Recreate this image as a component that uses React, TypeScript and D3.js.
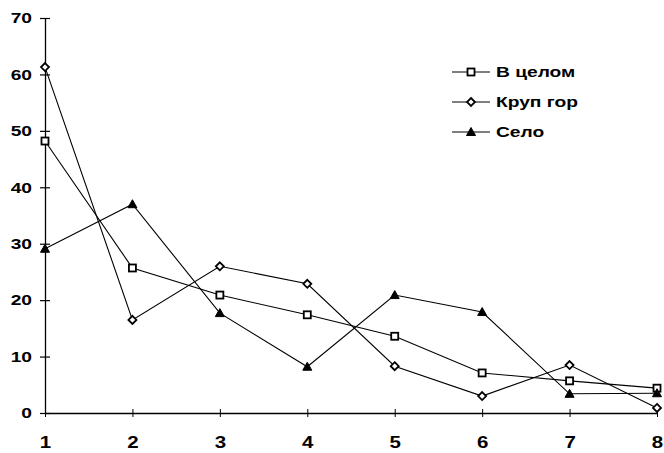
import React, { useEffect, useRef } from "react";
import * as d3 from "d3";

// values
const xValues = [1, 2, 3, 4, 5, 6, 7, 8];
const yTicks = [0, 10, 20, 30, 40, 50, 60, 70];

const seriesNames = ["В целом", "Круп гор", "Село"];
const vCelom = [48.2, 25.7, 20.9, 17.4, 13.6, 7.1, 5.7, 4.4];
const krupGor = [61.3, 16.5, 26.0, 22.9, 8.3, 3.0, 8.5, 0.9];
const selo = [29.1, 37.0, 17.7, 8.2, 20.9, 17.9, 3.4, 3.5];

const seriesShapes = ["square", "diamond", "triangle"];

const FONT = "'Liberation Sans', Arial, sans-serif";
const STRETCH = 1.28; // the scanned labels are wider than plain Arial

function drawMarker(g: d3.Selection<SVGGElement, unknown, null, undefined>, shape: string, x: number, y: number) {
	if (shape === "square") {
		g.append("rect")
			.attr("x", x - 3.5)
			.attr("y", y - 3.5)
			.attr("width", 7)
			.attr("height", 7)
			.attr("fill", "#fff")
			.attr("stroke", "#000")
			.attr("stroke-width", 1.8);
	} else if (shape === "diamond") {
		g.append("path")
			.attr("d", `M${x},${y - 4}L${x + 4},${y}L${x},${y + 4}L${x - 4},${y}Z`)
			.attr("fill", "#fff")
			.attr("stroke", "#000")
			.attr("stroke-width", 1.8);
	} else {
		g.append("path")
			.attr("d", `M${x},${y - 4.5}L${x + 4.5},${y + 3.5}L${x - 4.5},${y + 3.5}Z`)
			.attr("fill", "#000")
			.attr("stroke", "#000")
			.attr("stroke-width", 1);
	}
}

export default function App() {
	const svgRef = useRef<SVGSVGElement | null>(null);

	useEffect(() => {
		if (!svgRef.current) return;
		const width = 664;
		const height = 453;
		const margin = { top: 18, right: 7, bottom: 40, left: 45 };

		const svg = d3.select(svgRef.current);
		svg.selectAll("*").remove();

		const x = d3.scaleLinear().domain([1, 8]).range([margin.left, width - margin.right]);
		const y = d3.scaleLinear().domain([0, 70]).range([height - margin.bottom, margin.top]);

		// y axis
		const yAxis = svg
			.append("g")
			.attr("transform", `translate(${margin.left},0)`)
			.call(d3.axisLeft(y).tickValues(yTicks).tickSizeInner(5).tickSizeOuter(0).tickPadding(8));
		yAxis.select(".domain").attr("stroke", "#000").attr("stroke-width", 1.3);
		yAxis.selectAll(".tick line").attr("x1", -5).attr("x2", 5).attr("stroke-width", 1.2);
		yAxis
			.selectAll(".tick text")
			.attr("x", -13 / STRETCH)
			.attr("transform", `scale(${STRETCH},1)`)
			.attr("font-family", FONT)
			.attr("font-weight", "bold")
			.attr("font-size", 15)
			.attr("fill", "#000");

		// x axis
		const xAxis = svg
			.append("g")
			.attr("transform", `translate(0,${y(0)})`)
			.call(d3.axisBottom(x).tickValues(xValues).tickFormat(d3.format("d")).tickSizeInner(4).tickSizeOuter(0).tickPadding(20));
		xAxis.select(".domain").attr("stroke", "#000").attr("stroke-width", 1.3);
		xAxis.selectAll(".tick line").attr("y1", -4).attr("y2", 4).attr("stroke-width", 1);
		xAxis
			.selectAll(".tick text")
			.attr("transform", `scale(${STRETCH},1)`)
			.attr("font-family", FONT)
			.attr("font-weight", "bold")
			.attr("font-size", 16)
			.attr("fill", "#000");

		const allSeries = [vCelom, krupGor, selo];
		const line = d3
			.line<number>()
			.x((_, i) => x(xValues[i]))
			.y((d) => y(d));

		allSeries.forEach((vals) => {
			svg.append("path").datum(vals).attr("d", line).attr("fill", "none").attr("stroke", "#000").attr("stroke-width", 1.1);
		});
		allSeries.forEach((vals, si) => {
			const g = svg.append("g");
			vals.forEach((v, i) => drawMarker(g, seriesShapes[si], x(xValues[i]), y(v)));
		});

		// legend
		const legend = svg.append("g").attr("transform", "translate(452,72)");
		seriesNames.forEach((name, i) => {
			const row = legend.append("g").attr("transform", `translate(0,${i * 30})`);
			row.append("line").attr("x1", 0).attr("x2", 38).attr("y1", 0).attr("y2", 0).attr("stroke", "#000").attr("stroke-width", 1.1);
			drawMarker(row as any, seriesShapes[i], 19, 0);
			row.append("text")
				.attr("transform", `translate(44,0) scale(${STRETCH},1)`)
				.attr("dy", "0.35em")
				.attr("font-family", FONT)
				.attr("font-weight", "bold")
				.attr("font-size", 15)
				.text(name);
		});
	}, []);

	return (
		<svg
			ref={svgRef}
			width={664}
			height={453}
			style={{ position: "absolute", left: 0, top: 0, background: "#fff" }}
		/>
	);
}
